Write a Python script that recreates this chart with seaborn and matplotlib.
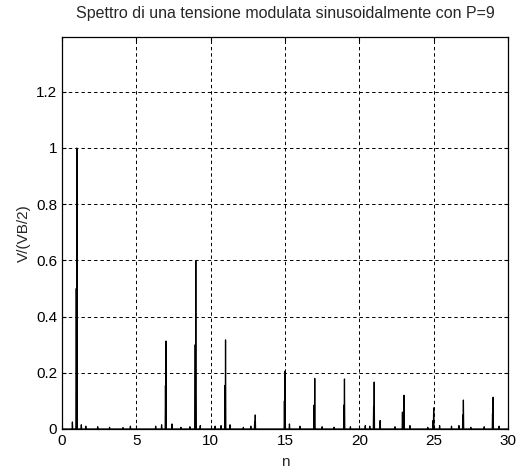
import numpy as np
import pandas as pd
import matplotlib
matplotlib.use("Agg")
import matplotlib.pyplot as plt
import seaborn as sns

# armoniche principali (n) e ampiezze
armoniche = [1, 7, 9, 11, 13, 15, 17, 19, 21, 23, 25, 27, 29]
picco = [1.0, 0.313, 0.598, 0.317, 0.05, 0.206, 0.18, 0.178, 0.167, 0.12, 0.075, 0.103, 0.113]
# riga adiacente (bin a sinistra) circa meta' ampiezza
laterale = [0.5, 0.155, 0.3, 0.155, 0.025, 0.1, 0.085, 0.085, 0.08, 0.06, 0.03, 0.05, 0.055]

# piccole componenti spurie
n_spurie = [0.7, 1.3, 1.6, 2.4, 3.2, 4.1, 4.6, 6.3, 6.7, 7.4, 8.0, 8.6, 9.3, 10.3, 10.7,
            11.3, 12.2, 12.7, 15.3, 16.0, 17.5, 18.3, 19.4, 20.4, 20.7, 21.4, 22.4,
            22.9, 23.4, 24.6, 25.4, 26.2, 26.7, 27.5, 28.4, 29.4]
a_spurie = [0.025, 0.015, 0.01, 0.008, 0.006, 0.005, 0.01, 0.01, 0.015, 0.018, 0.006,
            0.008, 0.012, 0.01, 0.012, 0.015, 0.006, 0.01, 0.018, 0.01, 0.008, 0.006,
            0.008, 0.012, 0.01, 0.03, 0.008, 0.06, 0.012, 0.006, 0.012, 0.01, 0.012,
            0.006, 0.008, 0.01]

# spettro su griglia fine
passo = 0.02
n = np.round(np.arange(0, 30 + passo / 2, passo), 2)
v = np.zeros_like(n)
for h, p, l in zip(armoniche, picco, laterale):
    v[np.argmin(np.abs(n - h))] = p
    v[np.argmin(np.abs(n - (h - 2 * passo)))] = l
for h, a in zip(n_spurie, a_spurie):
    i = np.argmin(np.abs(n - h))
    v[i] = max(v[i], a)

df = pd.DataFrame({"n": n, "V": v})

sns.set_style("white")
plt.rcParams["font.family"] = ["Liberation Sans", "DejaVu Sans"]

fig = plt.figure(figsize=(5.17, 4.76), dpi=100)
ax = fig.add_axes([62 / 517, 1 - 429 / 476, 446 / 517, 392 / 476])
sns.lineplot(data=df, x="n", y="V", color="black", linewidth=0.9, ax=ax)

ax.set_xlim(0, 30)
ax.set_ylim(0, 1.395)
ax.set_xticks(range(0, 31, 5))
ax.set_yticks([0, 0.2, 0.4, 0.6, 0.8, 1, 1.2])
ax.set_yticklabels(["0", "0.2", "0.4", "0.6", "0.8", "1", "1.2"])
ax.grid(True, color="black", linestyle=(0, (3.5, 3)), linewidth=0.7)
ax.tick_params(direction="in", length=3, labelsize=11, colors="black",
               top=True, right=True, bottom=True, left=True)
for s in ax.spines.values():
    s.set_color("black")
    s.set_linewidth(0.9)

ax.set_title("Spettro di una tensione modulata sinusoidalmente con P=9", fontsize=11.5, pad=14)
ax.set_xlabel("n", fontsize=11, labelpad=5)
ax.set_ylabel("V/(VB/2)", fontsize=11)

fig.savefig("out.png", dpi=100)
